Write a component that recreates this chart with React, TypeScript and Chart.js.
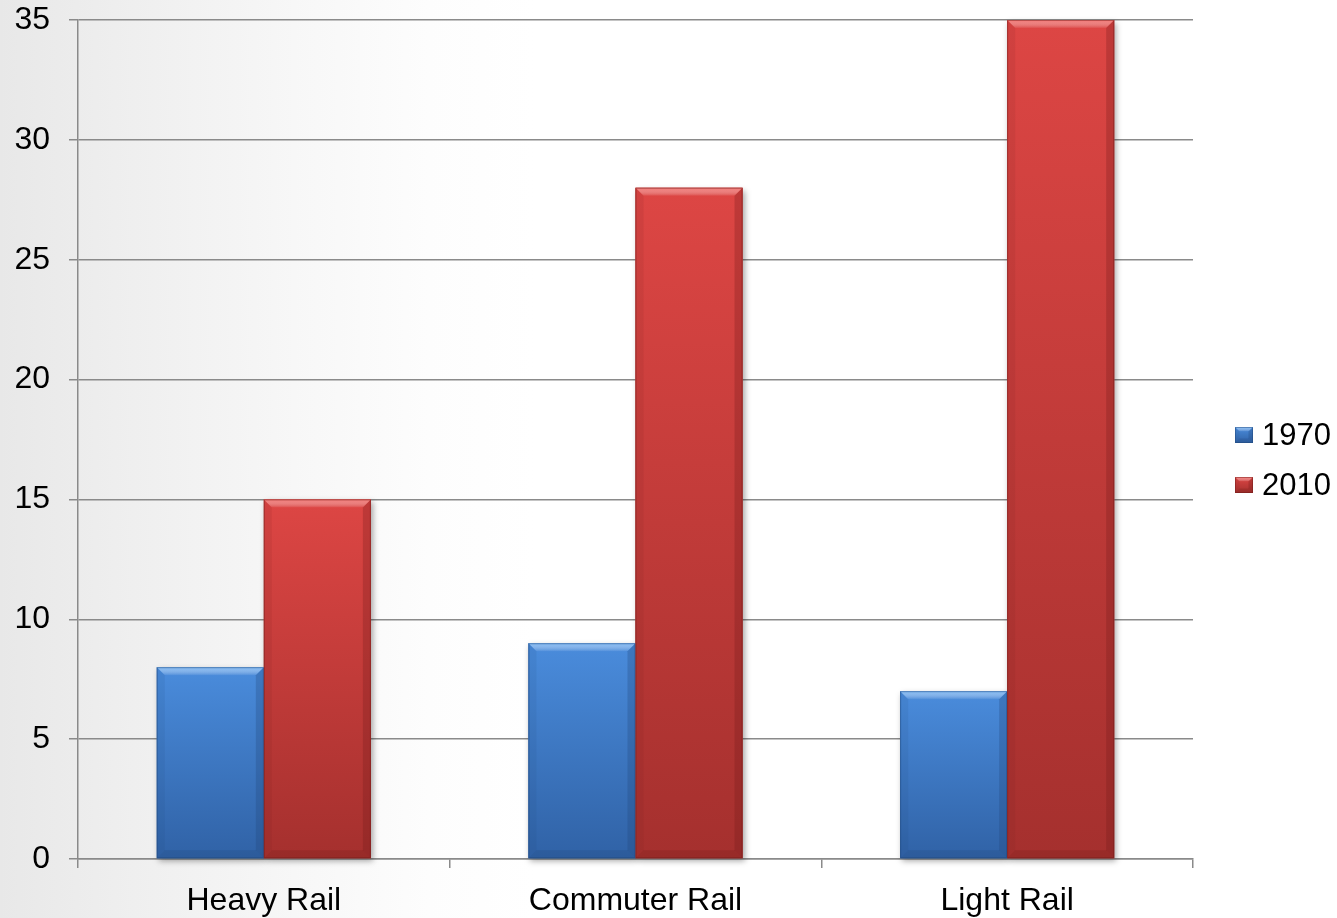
import { useEffect, useRef } from "react";
import { Chart, registerables } from "chart.js";

Chart.register(...registerables);

const categories = ["Heavy Rail", "Commuter Rail", "Light Rail"];
const seriesLabels = ["1970", "2010"];
const values1970 = [8, 9, 7];
const values2010 = [15, 28, 35];
const yMin = 0;
const yMax = 35;
const yStep = 5;

const palettes = [
  { top: "#4a8cdc", bottom: "#3062a6", light: "#86bdf6", dark: "#1f4577", solid: "#3d78c4" },
  { top: "#dd4644", bottom: "#a5302e", light: "#f57a77", dark: "#6e1a19", solid: "#c43c3a" },
];

const FONT = "'Liberation Sans', Arial, sans-serif";
const GRID = "#8a8a8a";
const FS = 32;

function drawBevelRect(ctx: CanvasRenderingContext2D, L: number, T: number, R: number, B: number, p: any) {
  const w = R - L;
  const h = B - T;
  if (w <= 0 || h <= 0) return;
  const bw = Math.min(8, w / 4, h / 3);
  const g = ctx.createLinearGradient(0, T, 0, B);
  g.addColorStop(0, p.top);
  g.addColorStop(1, p.bottom);
  ctx.fillStyle = g;
  ctx.fillRect(L, T, w, h);
  // top bevel
  ctx.beginPath();
  ctx.moveTo(L, T);
  ctx.lineTo(R, T);
  ctx.lineTo(R - bw, T + bw);
  ctx.lineTo(L + bw, T + bw);
  ctx.closePath();
  const tg = ctx.createLinearGradient(0, T, 0, T + bw);
  tg.addColorStop(0, p.light);
  tg.addColorStop(1, "rgba(255,255,255,0.05)");
  ctx.globalAlpha = 0.9;
  ctx.fillStyle = tg;
  ctx.fill();
  // bottom bevel
  ctx.beginPath();
  ctx.moveTo(L, B);
  ctx.lineTo(R, B);
  ctx.lineTo(R - bw, B - bw);
  ctx.lineTo(L + bw, B - bw);
  ctx.closePath();
  ctx.globalAlpha = 0.22;
  ctx.fillStyle = p.dark;
  ctx.fill();
  // right bevel
  ctx.beginPath();
  ctx.moveTo(R, T);
  ctx.lineTo(R, B);
  ctx.lineTo(R - bw, B - bw);
  ctx.lineTo(R - bw, T + bw);
  ctx.closePath();
  ctx.globalAlpha = 0.28;
  ctx.fillStyle = p.dark;
  ctx.fill();
  // left bevel
  ctx.beginPath();
  ctx.moveTo(L, T);
  ctx.lineTo(L, B);
  ctx.lineTo(L + bw, B - bw);
  ctx.lineTo(L + bw, T + bw);
  ctx.closePath();
  ctx.globalAlpha = 0.1;
  ctx.fillStyle = p.dark;
  ctx.fill();
  // outline
  ctx.globalAlpha = 0.45;
  ctx.strokeStyle = p.dark;
  ctx.lineWidth = 1;
  ctx.strokeRect(L + 0.5, T + 0.5, w - 1, h - 1);
  ctx.globalAlpha = 1;
}

const bevelPlugin = {
  id: "bevelBars",
  beforeDatasetsDraw(chart: any) {
    const ctx = chart.ctx;
    ctx.save();
    chart.data.datasets.forEach((_: any, di: number) => {
      const meta = chart.getDatasetMeta(di);
      meta.data.forEach((el: any) => {
        const { x, y, base, width } = el.getProps(["x", "y", "base", "width"], true);
        ctx.save();
        ctx.shadowColor = "rgba(0,0,0,0.35)";
        ctx.shadowBlur = 6;
        ctx.shadowOffsetX = 2;
        ctx.shadowOffsetY = 3;
        ctx.fillStyle = "#888";
        ctx.fillRect(x - width / 2, y, width, base - y);
        ctx.restore();
      });
    });
    ctx.restore();
  },
  afterDatasetsDraw(chart: any) {
    const ctx = chart.ctx;
    ctx.save();
    chart.data.datasets.forEach((_: any, di: number) => {
      const meta = chart.getDatasetMeta(di);
      meta.data.forEach((el: any) => {
        const { x, y, base, width } = el.getProps(["x", "y", "base", "width"], true);
        drawBevelRect(ctx, x - width / 2, y, x + width / 2, base, palettes[di]);
      });
    });
    ctx.restore();
  },
  afterDraw(chart: any) {
    const ctx = chart.ctx;
    ctx.save();
    const mx = 1235;
    const ms = 18;
    const mh = 16;
    const centers = [435, 485];
    seriesLabels.forEach((lab, i) => {
      const cy = centers[i];
      drawBevelRect(ctx, mx, cy - mh / 2, mx + ms, cy + mh / 2, palettes[i]);
      ctx.fillStyle = "#000";
      ctx.font = `31px ${FONT}`;
      ctx.textBaseline = "middle";
      ctx.textAlign = "left";
      ctx.fillText(lab, 1262, cy + 1);
    });
    ctx.restore();
  },
};

export default function App() {
  const ref = useRef<HTMLCanvasElement | null>(null);
  useEffect(() => {
    if (!ref.current) return;
    const chart = new Chart(ref.current, {
      type: "bar",
      data: {
        labels: categories,
        datasets: [
          { label: seriesLabels[0], data: values1970, backgroundColor: palettes[0].solid, borderWidth: 0 },
          { label: seriesLabels[1], data: values2010, backgroundColor: palettes[1].solid, borderWidth: 0 },
        ],
      },
      options: {
        animation: false,
        responsive: true,
        maintainAspectRatio: false,
        layout: { padding: { left: 0, right: 144, top: 20, bottom: 0 } },
        datasets: { bar: { categoryPercentage: 0.576, barPercentage: 1 } },
        plugins: { legend: { display: false }, tooltip: { enabled: false } },
        scales: {
          x: {
            grid: { display: true, drawOnChartArea: false, drawTicks: true, tickLength: 9, color: GRID, lineWidth: 1.5, offset: true },
            border: { display: true, color: GRID, width: 1.5 },
            ticks: { color: "#000", font: { family: FONT, size: FS }, padding: 14, maxRotation: 0 },
            afterFit: (s: any) => { s.height = 59; s.paddingLeft = 0; s.paddingRight = 0; },
          },
          y: {
            min: yMin,
            max: yMax,
            grid: { color: GRID, lineWidth: 1.5, tickLength: 9, drawTicks: true },
            border: { display: true, color: GRID, width: 1.5 },
            ticks: { stepSize: yStep, color: "#000", font: { family: FONT, size: FS }, padding: 19 },
            afterFit: (s: any) => { s.width = 78; s.paddingTop = 0; s.paddingBottom = 0; },
          },
        },
      },
      plugins: [bevelPlugin],
    });
    return () => chart.destroy();
  }, []);
  return (
    <div
      style={{
        position: "fixed",
        left: 0,
        top: 0,
        width: 1337,
        height: 918,
        background: "linear-gradient(90deg, #e8e8e8 0%, #efefef 10%, #f7f7f7 22%, #fdfdfd 32%, #ffffff 40%)",
      }}
    >
      <canvas ref={ref} />
    </div>
  );
}
